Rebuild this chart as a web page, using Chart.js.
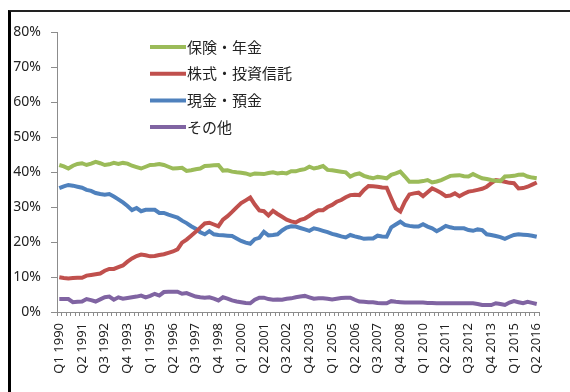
<!DOCTYPE html>
<html>
<head>
<meta charset="utf-8">
<script src="https://cdn.jsdelivr.net/npm/chart.js@4.4.0/dist/chart.umd.min.js"></script>
<style>
  html, body { margin: 0; padding: 0; background: #fff; overflow: hidden; width: 570px; height: 392px; }
  #frame { position: absolute; left: 8px; top: 10px; width: 570px; height: 400px;
           border-top: 2px solid #222; border-left: 3px solid #000; }
  #wrap { position: absolute; left: 0; top: 0; width: 570px; height: 392px; }
</style>
</head>
<body>
<div id="frame"></div>
<div id="wrap"><canvas id="chart" width="570" height="392"></canvas></div>
<script>
// 四半期ラベル (Q1 1990 〜 Q2 2016)
const startYear = 1990;
const quarterCount = 106;
const quarterLabels = [];
for (let i = 0; i < quarterCount; i++) {
  quarterLabels.push('Q' + (i % 4 + 1) + ' ' + (startYear + Math.floor(i / 4)));
}

const seriesNames = ['保険・年金', '株式・投資信託', '現金・預金', 'その他'];
const seriesColors = ['#9BBB59', '#C0504D', '#4F81BD', '#8064A2'];

// 構成比 (%)
const insurance = [
  42.0, 41.6, 41.0, 41.8, 42.3, 42.5, 42.0, 42.4, 42.9, 42.5,
  42.0, 42.2, 42.6, 42.3, 42.6, 42.4, 41.8, 41.4, 41.0, 41.5,
  42.0, 42.1, 42.3, 42.0, 41.5, 41.0, 41.1, 41.2, 40.3, 40.5,
  40.8, 41.0, 41.7, 41.8, 41.9, 42.0, 40.4, 40.5, 40.1, 39.9,
  39.8, 39.6, 39.2, 39.6, 39.5, 39.4, 39.7, 39.9, 39.6, 39.8,
  39.6, 40.2, 40.2, 40.6, 40.8, 41.5, 41.0, 41.3, 41.7, 40.6,
  40.5, 40.3, 40.1, 39.9, 38.7, 39.3, 39.6, 38.9, 38.5, 38.2,
  38.6, 38.4, 38.2, 39.2, 39.6, 40.1, 38.7, 37.2, 37.2, 37.2,
  37.4, 37.7, 37.0, 37.3, 37.7, 38.3, 38.9, 39.0, 39.1, 38.8,
  38.7, 39.4, 38.8, 38.2, 38.0, 37.7, 37.5, 37.4, 38.7, 38.8,
  38.9, 39.2, 39.3, 38.7, 38.4, 38.2
];
const stocks = [
  9.9, 9.7, 9.6, 9.7, 9.8, 9.8, 10.4, 10.6, 10.8, 11.0,
  11.8, 12.3, 12.3, 12.8, 13.3, 14.4, 15.3, 16.0, 16.4, 16.2,
  15.9, 16.0, 16.3, 16.5, 16.9, 17.3, 17.9, 19.8, 20.7, 21.8,
  22.9, 24.1, 25.3, 25.5, 25.0, 24.5, 26.4, 27.4, 28.6, 29.9,
  31.1, 31.9, 32.7, 30.7, 29.0, 28.8, 27.6, 28.9, 28.0, 27.2,
  26.4, 25.9, 25.6, 26.3, 26.7, 27.5, 28.4, 29.1, 29.1, 30.0,
  30.6, 31.5, 32.0, 32.8, 33.4, 33.5, 33.4, 34.9, 36.0, 35.9,
  35.8, 35.6, 35.5, 32.5, 29.6, 28.7, 31.5, 33.6, 33.9, 34.1,
  33.1, 34.2, 35.3, 34.7, 34.0, 33.1, 33.3, 33.9, 33.1, 33.8,
  34.4, 34.6, 34.9, 35.2, 35.8, 36.8, 37.7, 37.5, 37.2, 36.9,
  36.8, 35.3, 35.4, 35.8, 36.4, 37.0
];
const deposits = [
  35.4, 35.9, 36.3, 36.1, 35.8, 35.5, 34.9, 34.6, 34.0, 33.7,
  33.5, 33.7, 33.0, 32.2, 31.3, 30.3, 29.1, 29.7, 28.8, 29.2,
  29.2, 29.2, 28.3, 28.3, 27.8, 27.4, 27.0, 26.1, 25.4, 24.5,
  23.8, 22.8, 22.2, 23.1, 22.2, 22.0, 21.9, 21.8, 21.7, 21.0,
  20.3, 19.8, 19.5, 20.8, 21.2, 22.9, 21.9, 22.0, 22.2, 23.3,
  24.1, 24.5, 24.4, 24.0, 23.6, 23.2, 23.9, 23.6, 23.2, 22.8,
  22.3, 22.0, 21.6, 21.3, 22.0, 21.6, 21.3, 20.9, 21.0, 21.0,
  21.8, 21.6, 21.5, 24.2, 25.0, 25.8, 24.9, 24.6, 24.4, 24.4,
  25.1, 24.4, 23.9, 23.1, 23.8, 24.6, 24.2, 23.9, 23.9, 23.9,
  23.4, 23.2, 23.6, 23.4, 22.2, 22.0, 21.7, 21.4, 20.9, 21.5,
  22.0, 22.2, 22.1, 22.0, 21.8, 21.5
];
const others = [
  3.7, 3.7, 3.7, 2.8, 2.9, 3.0, 3.7, 3.4, 3.0, 3.6,
  4.2, 4.4, 3.5, 4.2, 3.8, 4.0, 4.2, 4.4, 4.7, 4.2,
  4.6, 5.2, 4.7, 5.7, 5.8, 5.8, 5.8, 5.2, 5.4, 4.9,
  4.4, 4.2, 4.1, 4.2, 3.8, 3.3, 4.2, 3.8, 3.3, 3.0,
  2.8, 2.6, 2.5, 3.5, 4.1, 4.1, 3.7, 3.5, 3.6, 3.5,
  3.8, 3.9, 4.2, 4.4, 4.6, 4.2, 3.8, 3.9, 3.9, 3.8,
  3.6, 3.8, 4.0, 4.1, 4.1, 3.5, 3.0, 2.9, 2.8, 2.8,
  2.6, 2.5, 2.5, 3.1, 2.9, 2.8, 2.7, 2.7, 2.7, 2.7,
  2.7, 2.6, 2.6, 2.5, 2.5, 2.5, 2.5, 2.5, 2.5, 2.5,
  2.5, 2.5, 2.3, 2.0, 2.0, 2.0, 2.5, 2.3, 2.0, 2.7,
  3.1, 2.8, 2.5, 2.9, 2.6, 2.3
];
const seriesValues = [insurance, stocks, deposits, others];

const labelStep = 5;
const axisColor = '#8c8c8c';

// プロット内の凡例
const insideLegend = {
  id: 'insideLegend',
  afterDatasetsDraw(chart) {
    const ctx = chart.ctx;
    ctx.save();
    ctx.font = '15px "Noto Sans CJK JP"';
    ctx.textBaseline = 'middle';
    chart.data.datasets.forEach((ds, k) => {
      const y = 47 + k * 26.7;
      ctx.strokeStyle = ds.borderColor;
      ctx.lineWidth = 4;
      ctx.beginPath();
      ctx.moveTo(150, y);
      ctx.lineTo(186, y);
      ctx.stroke();
      ctx.fillStyle = '#222';
      ctx.fillText(ds.label, 187, y);
    });
    ctx.restore();
  }
};

new Chart(document.getElementById('chart'), {
  type: 'line',
  data: {
    labels: quarterLabels,
    datasets: seriesNames.map((name, k) => ({
      label: name,
      data: seriesValues[k],
      borderColor: seriesColors[k],
      backgroundColor: seriesColors[k],
      borderWidth: 4,
      pointRadius: 0,
      tension: 0,
      fill: false
    }))
  },
  options: {
    responsive: false,
    animation: false,
    layout: { padding: { top: 32, right: 31, bottom: 0, left: 0 } },
    plugins: {
      legend: { display: false },
      tooltip: { enabled: false }
    },
    scales: {
      x: {
        offset: true,
        grid: { drawOnChartArea: false, drawTicks: true, tickLength: 4, color: axisColor, offset: true },
        border: { color: axisColor },
        ticks: {
          autoSkip: false,
          minRotation: 90,
          maxRotation: 90,
          padding: 7,
          color: '#222',
          font: { family: '"Noto Sans"', size: 13 },
          callback: function (value, index) {
            return index % labelStep === 0 ? this.getLabelForValue(value) : '';
          }
        },
        afterFit: (scale) => { scale.height = 80; }
      },
      y: {
        min: 0,
        max: 80,
        grid: { drawOnChartArea: false, drawTicks: true, tickLength: 6, color: axisColor },
        border: { color: axisColor },
        ticks: {
          stepSize: 10,
          padding: 10,
          color: '#222',
          font: { family: '"Noto Sans"', size: 14 },
          callback: (v) => v + '%'
        },
        afterFit: (scale) => { scale.width = 57; }
      }
    }
  },
  plugins: [insideLegend]
});
</script>
</body>
</html>
